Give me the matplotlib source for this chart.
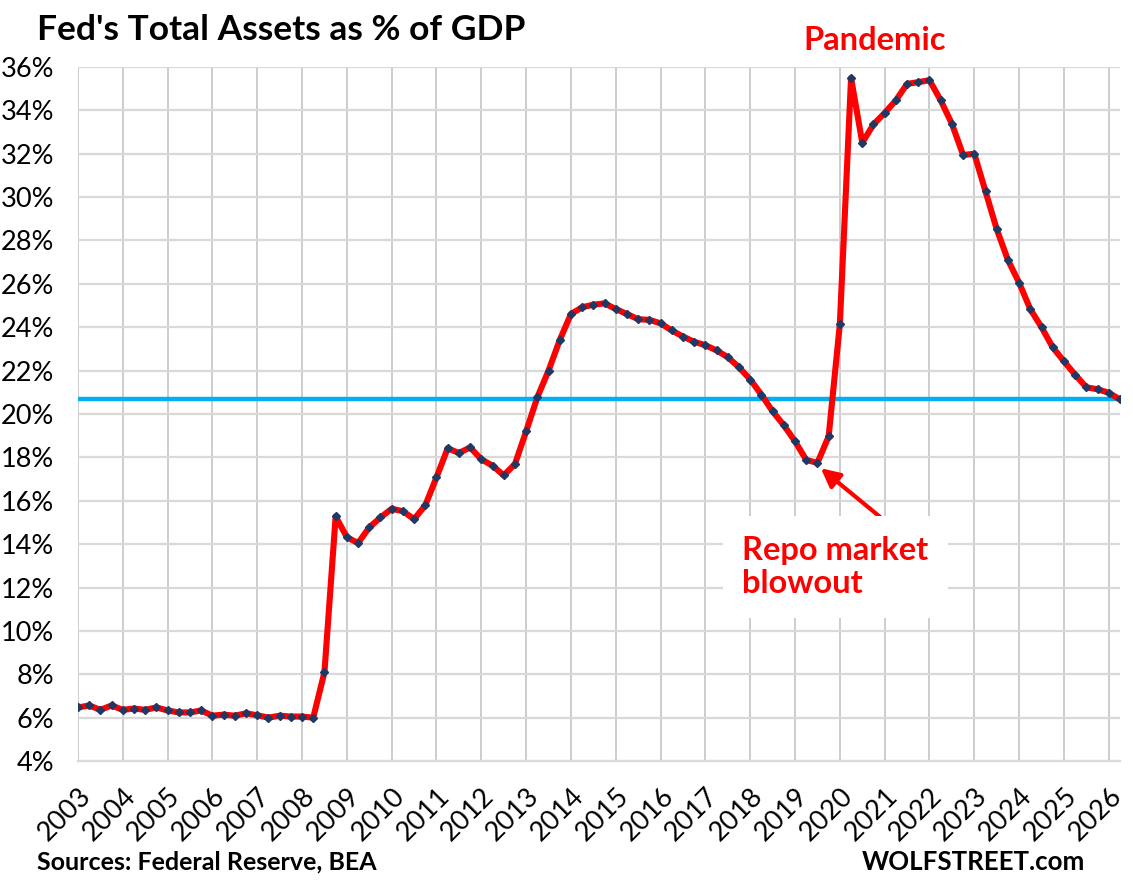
import numpy as np
import matplotlib.pyplot as plt
from matplotlib.ticker import FuncFormatter

plt.rcParams['font.family'] = ['Lato', 'DejaVu Sans']

# Fed total assets as % of GDP, quarterly, Q1 2003 onwards
valores = [6.47, 6.56, 6.36, 6.56, 6.36, 6.42, 6.36, 6.47,
           6.33, 6.24, 6.24, 6.33, 6.09, 6.14, 6.09, 6.20,
           6.11, 6.00, 6.09, 6.05, 6.05, 6.00, 8.10, 15.28,
           14.32, 14.05, 14.77, 15.23, 15.63, 15.52, 15.15, 15.79,
           17.08, 18.42, 18.20, 18.46, 17.91, 17.62, 17.17, 17.69,
           19.20, 20.77, 22.00, 23.41, 24.61, 24.92, 25.04, 25.10,
           24.84, 24.61, 24.37, 24.34, 24.18, 23.85, 23.57, 23.33,
           23.17, 22.93, 22.62, 22.15, 21.59, 20.89, 20.12, 19.48,
           18.74, 17.88, 17.75, 18.97, 24.15, 35.49, 32.51, 33.35,
           33.88, 34.46, 35.22, 35.30, 35.39, 34.46, 33.38, 31.94,
           32.00, 30.26, 28.52, 27.10, 26.05, 24.83, 24.00, 23.07,
           22.43, 21.81, 21.23, 21.14, 20.98, 20.67]
anios = [str(a) for a in range(2003, 2027)]
valor_actual = valores[-1]

x = np.arange(len(valores))

fig = plt.figure(figsize=(11.33, 8.8), dpi=100)
ax = fig.add_axes([0.0688, 0.1352, 0.9197, 0.7887])

# Lineas de referencia y serie
ax.axhline(valor_actual, color='#00B0F0', linewidth=3.2, zorder=2)
ax.plot(x, valores, color='#FF0000', linewidth=4.4, zorder=3,
        marker='D', markersize=4, markerfacecolor='#203864',
        markeredgecolor='#203864')

ax.set_xlim(0, len(valores) - 1)
ax.set_ylim(4, 36)
ax.set_yticks(np.arange(4, 37, 2))
ax.yaxis.set_major_formatter(FuncFormatter(lambda v, p: f'{v:.0f}%'))
ax.set_xticks(np.arange(0, len(valores), 4))
ax.set_xticklabels(anios, rotation=45, ha='right', va='top',
                   rotation_mode='anchor')

ax.tick_params(axis='both', length=0, labelsize=19.5, colors='black')
ax.tick_params(axis='y', pad=17)
ax.tick_params(axis='x', pad=16)

ax.grid(axis='y', color='#D9D9D9', linewidth=1.6, zorder=0)
ax.grid(axis='x', color='#C0C0C0', linewidth=1.1, zorder=0)
for lado in ['top', 'right', 'left']:
    ax.spines[lado].set_visible(False)
ax.spines['bottom'].set_color('#D9D9D9')
ax.spines['bottom'].set_linewidth(1.6)

# Anotaciones
ax.annotate('', xy=(66.3, 17.5), xytext=(71.6, 15.25),
            arrowprops=dict(arrowstyle='-|>', color='red', lw=3,
                            mutation_scale=28, shrinkA=0, shrinkB=0),
            zorder=4)
ax.text(59.3, 12.95, 'Repo market\nblowout', color='red', fontsize=23.5,
        fontweight='bold', ha='left', va='center', linespacing=1.2,
        bbox=dict(boxstyle='square,pad=0.6', facecolor='white',
                  edgecolor='none'), zorder=4)

fig.text(875 / 1133, 1 - 40 / 880, 'Pandemic', color='red', fontsize=23.5,
         fontweight='bold', ha='center', va='center')
fig.text(37 / 1133, 1 - 30 / 880, "Fed's Total Assets as % of GDP",
         fontsize=25.5, fontweight='bold', ha='left', va='center')
fig.text(37 / 1133, 1 - 862 / 880, 'Sources: Federal Reserve, BEA',
         fontsize=18, fontweight='bold', ha='left', va='center')
fig.text(1085 / 1133, 1 - 862 / 880, 'WOLFSTREET.com',
         fontsize=18.6, fontweight='bold', ha='right', va='center')

plt.savefig('out.png', dpi=100)
plt.close()
